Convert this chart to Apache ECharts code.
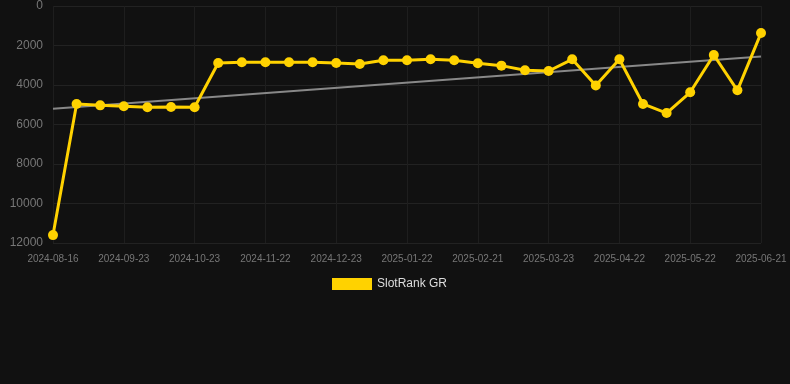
<!DOCTYPE html>
<html>
<head>
<meta charset="utf-8">
<script src="https://cdn.jsdelivr.net/npm/echarts@6/dist/echarts.min.js"></script>
<style>
    html, body { margin: 0; padding: 0; background: #111111; }
    #chart_SlotRank_Main { width: 790px; height: 384px; }
</style>
</head>
<body>
<div id="chart_SlotRank_Main"></div>
<script>
var dates = [
    '2024-08-16', '2024-08-28', '2024-09-10', '2024-09-23', '2024-10-03', '2024-10-13',
    '2024-10-23', '2024-11-02', '2024-11-12', '2024-11-22', '2024-12-02', '2024-12-12',
    '2024-12-23', '2025-01-02', '2025-01-12', '2025-01-22', '2025-02-01', '2025-02-11',
    '2025-02-21', '2025-03-03', '2025-03-13', '2025-03-23', '2025-04-02', '2025-04-12',
    '2025-04-22', '2025-05-02', '2025-05-12', '2025-05-22', '2025-06-01', '2025-06-11',
    '2025-06-21'
];

//排名值
var rankValues = [
    11600, 4960, 5030, 5080, 5130, 5115,
    5130, 2890, 2850, 2850, 2850, 2850,
    2890, 2940, 2750, 2750, 2700, 2750,
    2900, 3020, 3250, 3290, 2700, 4020,
    2700, 4960, 5420, 4370, 2480, 4270,
    1370
];

//趋势线 起点/终点
var trendValues = [5200, 2560];

var yTicks = [0, 2000, 4000, 6000, 8000, 10000, 12000];

var chart_SlotRank_Main = echarts.init(document.getElementById('chart_SlotRank_Main'));

var trendData = dates.map(function (d, i) {
    if (i === 0) return trendValues[0];
    if (i === dates.length - 1) return trendValues[1];
    return null;
});

var option = {
    backgroundColor: '#111111',
    animation: false,
    grid: {
        left: 53,
        right: 29,
        top: 6,
        bottom: 141
    },
    legend: {
        top: 273,
        left: 327,
        itemWidth: 40,
        itemHeight: 12,
        textStyle: { color: '#dddddd', fontSize: 12 },
        data: [{ name: 'SlotRank GR', icon: 'rect' }]
    },
    xAxis: {
        type: 'category',
        boundaryGap: false,
        data: dates,
        axisLine: { show: false },
        axisTick: { show: false },
        axisLabel: {
            interval: 2,
            color: '#777777',
            fontSize: 10,
            margin: 11
        },
        splitLine: {
            show: true,
            interval: 2,
            lineStyle: { color: '#1e1e1e' }
        }
    },
    yAxis: {
        type: 'value',
        inverse: true,
        min: yTicks[0],
        max: yTicks[yTicks.length - 1],
        interval: 2000,
        axisLine: { show: false },
        axisTick: { show: false },
        axisLabel: {
            color: '#777777',
            fontSize: 12,
            margin: 10,
            formatter: function (v) { return String(v); }
        },
        splitLine: {
            show: true,
            lineStyle: { color: '#222222' }
        }
    },
    series: [
        {
            name: 'trend',
            type: 'line',
            data: trendData,
            connectNulls: true,
            symbol: 'none',
            silent: true,
            lineStyle: { color: '#888888', width: 2 },
            z: 1
        },
        {
            name: 'SlotRank GR',
            type: 'line',
            data: rankValues,
            symbol: 'circle',
            symbolSize: 10,
            itemStyle: { color: '#FFD200' },
            lineStyle: { color: '#FFD200', width: 3 },
            z: 2
        }
    ]
};

chart_SlotRank_Main.setOption(option);
</script>
</body>
</html>
